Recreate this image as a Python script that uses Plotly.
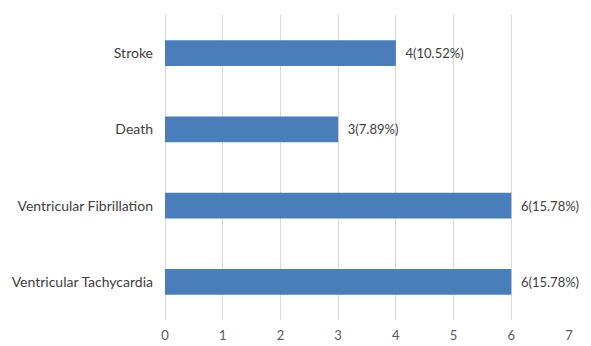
import plotly.graph_objects as go

categories = ["Ventricular Tachycardia", "Ventricular Fibrillation", "Death", "Stroke"]
values = [6, 6, 3, 4]
labels = ["6(15.78%)", "6(15.78%)", "3(7.89%)", "4(10.52%)"]

fig = go.Figure(go.Bar(
    x=values, y=categories, orientation="h",
    marker=dict(color="#4a7ebb", line=dict(width=0)),
    text=labels, textposition="outside",
    texttemplate="\u00a0\u00a0%{text}",
    textfont=dict(color="#404040", size=13, family="Lato"),
    cliponaxis=False,
))
fig.update_layout(
    width=591, height=346,
    margin=dict(l=165, r=22, t=15, b=26),
    paper_bgcolor="white", plot_bgcolor="white",
    bargap=0.66,
    showlegend=False,
    font=dict(family="Lato", size=13, color="#595959"),
    xaxis=dict(range=[0, 7], dtick=1, showgrid=True, gridcolor="#d9d9d9", gridwidth=1,
               zeroline=True, zerolinecolor="#d9d9d9", zerolinewidth=1,
               showline=False, ticks="", ticklabelstandoff=6, automargin=False,
               tickfont=dict(size=13, color="#595959")),
    yaxis=dict(categoryorder="array", categoryarray=categories, showgrid=False,
               zeroline=False, showline=False, ticks="", ticklen=0, automargin=False,
               ticklabelstandoff=11, tickfont=dict(size=14, color="#404040")),
)
fig.write_html("out.html")
